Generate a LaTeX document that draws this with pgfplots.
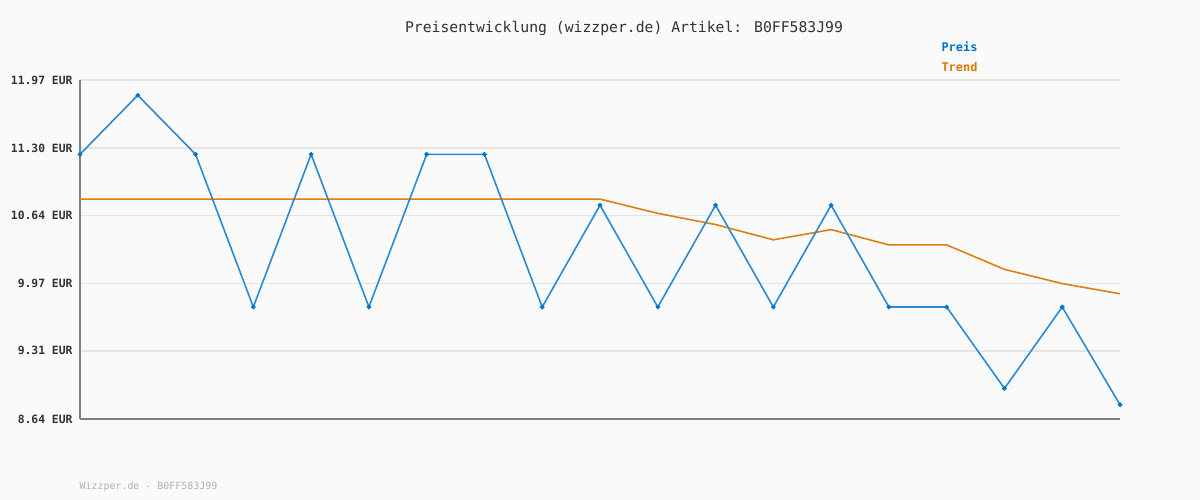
\documentclass[border=0pt]{standalone}
\usepackage{fontspec}
\setmainfont{DejaVu Sans Mono}
\usepackage{pgfplots}
\pgfplotsset{compat=1.18}
\definecolor{bgc}{HTML}{FAFAFA}
\definecolor{gridc}{HTML}{E4E4E4}
\definecolor{axc}{HTML}{808080}
\definecolor{preis}{HTML}{2A8AD6}
\definecolor{preisdark}{HTML}{0074C8}
\definecolor{trend}{HTML}{E07E10}
\definecolor{trenddark}{HTML}{DD7700}
\begin{document}
\begin{tikzpicture}[x=1bp,y=1bp]
\fill[bgc] (0,0) rectangle (1200,500);
\begin{axis}[
  at={(80bp,81bp)}, anchor=south west,
  scale only axis, width=1040bp, height=339bp,
  xmin=0, xmax=18, ymin=8.64, ymax=11.97,
  axis lines=left, axis line style={-, draw=axc, line width=1.6pt},
  xtick=\empty,
  ytick={8.64,9.31,9.97,10.64,11.30,11.97},
  yticklabels={8.64 EUR,9.31 EUR,9.97 EUR,10.64 EUR,11.30 EUR,11.97 EUR},
  yticklabel style={font=\bfseries\fontsize{11.4}{13}\selectfont, text=black!80, xshift=-4bp},
  major tick length=0pt,
  ymajorgrids, grid style={gridc, line width=1.6pt},
  clip=false,
]
\addplot[trend, line width=1.6pt] coordinates {
(0,10.80) (1,10.80) (2,10.80) (3,10.80) (4,10.80) (5,10.80) (6,10.80) (7,10.80) (8,10.80) (9,10.80)
(10,10.66) (11,10.55) (12,10.40) (13,10.50) (14,10.35) (15,10.35) (16,10.11) (17,9.97) (18,9.87)};
\addplot[preis, line width=1.6pt, mark=*, mark size=1.4pt, mark options={preisdark, fill=preisdark}] coordinates {
(0,11.24) (1,11.82) (2,11.24) (3,9.74) (4,11.24) (5,9.74) (6,11.24) (7,11.24) (8,9.74) (9,10.74)
(10,9.74) (11,10.74) (12,9.74) (13,10.74) (14,9.74) (15,9.74) (16,8.94) (17,9.74) (18,8.78)};
\end{axis}
\node[font=\fontsize{14.8}{17}\selectfont, text=black!80] at (624,472) {Preisentwicklung (wizzper.de) Artikel: B0FF583J99};
\node[font=\bfseries\fontsize{12}{14}\selectfont, text=preisdark, anchor=west] at (938,453) {Preis};
\node[font=\bfseries\fontsize{12}{14}\selectfont, text=trenddark, anchor=west] at (938,433) {Trend};
\node[font=\fontsize{10}{12}\selectfont, text=black!30, anchor=west] at (76,13) {Wizzper.de - B0FF583J99};
\end{tikzpicture}
\end{document}
